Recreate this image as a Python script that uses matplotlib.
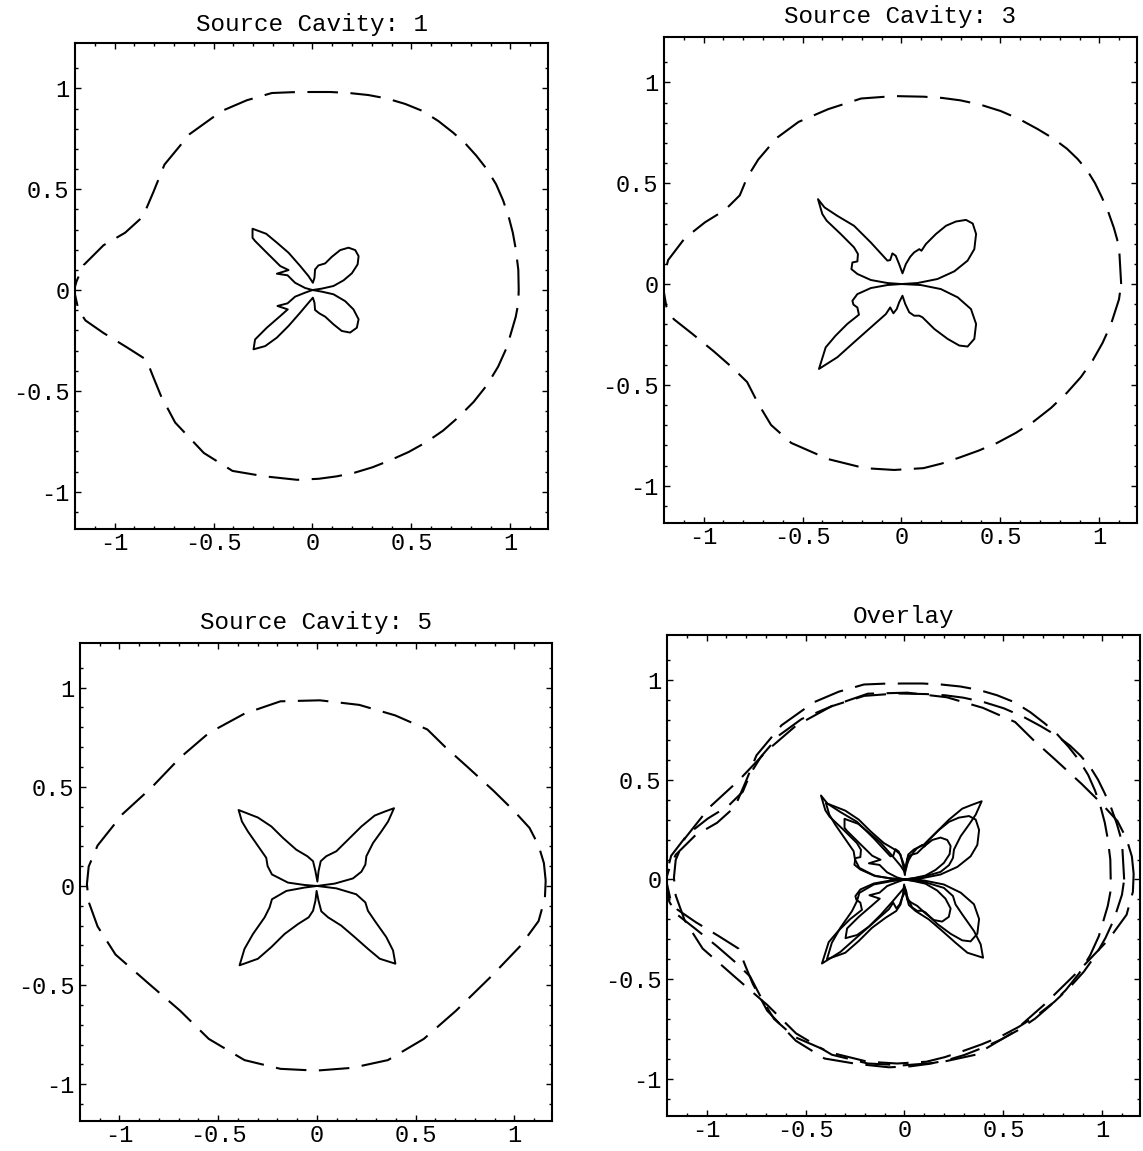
import numpy as np
import matplotlib
matplotlib.use('Agg')
import matplotlib.pyplot as plt

plt.rcParams['font.family'] = ['Liberation Mono', 'DejaVu Sans Mono']
plt.rcParams['lines.scale_dashes'] = False

# ---- Source cavity 1 ----
C1_OUTER_X = [1.042, 1.040, 1.027, 1.012, 0.991, 0.963, 0.928, 0.882, 0.828, 0.772,
              0.710, 0.636, 0.556, 0.468, 0.375, 0.282, 0.185, 0.090, -0.005, -0.105,
              -0.205, -0.332, -0.458, -0.621, -0.748, -0.803, -0.830, -0.857, -0.947, -1.056,
              -1.156, -1.192, -1.205, -1.183, -1.147, -1.056, -0.938, -0.866, -0.839, -0.803,
              -0.766, -0.694, -0.549, -0.404, -0.241, -0.078, 0.031, 0.122, 0.212, 0.303,
              0.393, 0.486, 0.574, 0.660, 0.737, 0.814, 0.882, 0.938, 0.982, 1.027, 1.040]
C1_OUTER_Y = [0.0, 0.100, 0.204, 0.285, 0.364, 0.445, 0.524, 0.598, 0.666, 0.727,
              0.781, 0.838, 0.888, 0.923, 0.950, 0.967, 0.977, 0.982, 0.982, 0.981,
              0.977, 0.941, 0.888, 0.773, 0.622, 0.488, 0.426, 0.364, 0.284, 0.222,
              0.124, 0.044, 0.0, -0.098, -0.151, -0.213, -0.284, -0.329, -0.346, -0.435,
              -0.524, -0.657, -0.808, -0.897, -0.924, -0.941, -0.936, -0.924, -0.906, -0.879,
              -0.844, -0.803, -0.755, -0.697, -0.631, -0.555, -0.471, -0.380, -0.284, -0.133, -0.065]
C1_INNER_X = [0.0, 0.047, 0.106, 0.157, 0.199, 0.228, 0.233, 0.216, 0.182, 0.140,
              0.098, 0.064, 0.030, 0.013, 0.010, 0.002, -0.020, -0.062, -0.121, -0.180,
              -0.234, -0.303, -0.303, -0.290, -0.231, -0.163, -0.121, -0.180, -0.126, -0.088,
              -0.037, 0.0, -0.037, -0.088, -0.126, -0.177, -0.125, -0.163, -0.231, -0.290,
              -0.298, -0.239, -0.180, -0.121, -0.062, -0.020, 0.002, 0.010, 0.013, 0.035,
              0.064, 0.106, 0.148, 0.190, 0.224, 0.233, 0.207, 0.165, 0.106, 0.047]
C1_INNER_Y = [0.0, 0.007, 0.020, 0.048, 0.083, 0.127, 0.168, 0.198, 0.210, 0.198,
              0.165, 0.132, 0.122, 0.102, 0.061, 0.036, 0.069, 0.119, 0.185, 0.235,
              0.279, 0.304, 0.259, 0.243, 0.185, 0.119, 0.099, 0.081, 0.073, 0.036,
              0.010, 0.0, -0.013, -0.033, -0.066, -0.079, -0.096, -0.129, -0.187, -0.245,
              -0.294, -0.278, -0.236, -0.178, -0.112, -0.063, -0.038, -0.063, -0.099, -0.116,
              -0.132, -0.170, -0.203, -0.211, -0.187, -0.145, -0.096, -0.055, -0.021, -0.008]

# ---- Source cavity 3 ----
C3_OUTER_X = [1.110, 1.101, 1.090, 1.073, 1.045, 1.012, 0.978, 0.938, 0.890, 0.836,
              0.765, 0.687, 0.597, 0.501, 0.400, 0.297, 0.204, 0.111, -0.037, -0.204,
              -0.371, -0.520, -0.631, -0.724, -0.780, -0.817, -0.891, -0.993, -1.096, -1.179,
              -1.198, -1.207, -1.188, -1.151, -1.058, -0.947, -0.854, -0.780, -0.724, -0.659,
              -0.557, -0.371, -0.186, -0.037, 0.111, 0.204, 0.297, 0.390, 0.483, 0.578,
              0.669, 0.756, 0.836, 0.906, 0.966, 1.016, 1.058, 1.099]
C3_OUTER_Y = [0.0, 0.155, 0.220, 0.279, 0.357, 0.431, 0.500, 0.564, 0.620, 0.671,
              0.723, 0.769, 0.817, 0.858, 0.889, 0.911, 0.923, 0.929, 0.932, 0.920,
              0.867, 0.804, 0.724, 0.617, 0.528, 0.440, 0.368, 0.306, 0.226, 0.119,
              0.048, -0.005, -0.112, -0.174, -0.246, -0.335, -0.415, -0.486, -0.593, -0.699,
              -0.788, -0.868, -0.913, -0.922, -0.913, -0.890, -0.859, -0.826, -0.788, -0.738,
              -0.681, -0.614, -0.539, -0.462, -0.379, -0.292, -0.201, -0.076]
C3_INNER_X = [0.0, 0.081, 0.182, 0.267, 0.334, 0.368, 0.377, 0.360, 0.326, 0.275,
              0.225, 0.174, 0.123, 0.101, 0.090, 0.064, 0.044, 0.022, 0.005, -0.012,
              -0.029, -0.046, -0.057, -0.071, -0.155, -0.240, -0.324, -0.389, -0.422, -0.400,
              -0.378, -0.307, -0.240, -0.220, -0.223, -0.248, -0.253, -0.223, -0.155, -0.071,
              0.0, -0.071, -0.155, -0.223, -0.248, -0.243, -0.223, -0.215, -0.274, -0.333,
              -0.383, -0.417, -0.324, -0.240, -0.155, -0.079, -0.057, -0.041, -0.024, -0.012,
              0.005, 0.019, 0.039, 0.064, 0.090, 0.106, 0.166, 0.233, 0.292, 0.334,
              0.368, 0.377, 0.351, 0.284, 0.199, 0.098]
C3_INNER_Y = [0.0, 0.005, 0.025, 0.063, 0.116, 0.173, 0.248, 0.300, 0.318, 0.310,
              0.289, 0.248, 0.198, 0.165, 0.173, 0.157, 0.135, 0.099, 0.053, 0.099,
              0.140, 0.152, 0.119, 0.116, 0.206, 0.289, 0.338, 0.380, 0.421, 0.347,
              0.314, 0.248, 0.182, 0.149, 0.112, 0.107, 0.074, 0.050, 0.020, 0.005,
              0.0, -0.005, -0.020, -0.050, -0.083, -0.102, -0.116, -0.152, -0.198, -0.256,
              -0.314, -0.421, -0.363, -0.289, -0.215, -0.149, -0.116, -0.145, -0.124, -0.091,
              -0.058, -0.099, -0.140, -0.157, -0.157, -0.165, -0.223, -0.272, -0.305, -0.310,
              -0.272, -0.198, -0.124, -0.066, -0.025, -0.005]

# ---- Source cavity 5 ----
C5_OUTER_X = [1.158, 1.149, 1.122, 1.076, 0.995, 0.895, 0.759, 0.650, 0.559, 0.396,
              0.214, 0.015, -0.185, -0.367, -0.548, -0.693, -0.838, -0.984, -1.111, -1.156,
              -1.165, -1.156, -1.111, -1.020, -0.857, -0.693, -0.548, -0.367, -0.185, -0.004,
              0.178, 0.359, 0.541, 0.704, 0.886, 1.031, 1.122, 1.154]
C5_OUTER_Y = [0.027, 0.115, 0.204, 0.293, 0.381, 0.479, 0.603, 0.700, 0.789, 0.860,
              0.913, 0.936, 0.931, 0.869, 0.771, 0.647, 0.496, 0.363, 0.204, 0.098,
              0.009, -0.080, -0.204, -0.346, -0.488, -0.629, -0.771, -0.878, -0.922, -0.931,
              -0.917, -0.878, -0.771, -0.629, -0.452, -0.301, -0.177, -0.062]
C5_INNER_X = [0.0, 0.090, 0.182, 0.225, 0.245, 0.250, 0.284, 0.326, 0.360, 0.390,
              0.343, 0.292, 0.225, 0.157, 0.098, 0.047, 0.019, 0.008, 0.002, -0.008,
              -0.020, -0.049, -0.105, -0.172, -0.231, -0.299, -0.397, -0.380, -0.350, -0.257,
              -0.250, -0.228, -0.147, -0.063, 0.0, -0.063, -0.155, -0.228, -0.240, -0.265,
              -0.324, -0.367, -0.392, -0.299, -0.231, -0.164, -0.096, -0.042, -0.020, -0.008,
              -0.002, 0.008, 0.022, 0.056, 0.123, 0.191, 0.258, 0.318, 0.397, 0.385,
              0.351, 0.292, 0.258, 0.245, 0.199, 0.098]
C5_INNER_Y = [0.0, 0.012, 0.038, 0.072, 0.108, 0.150, 0.217, 0.275, 0.325, 0.392,
              0.375, 0.355, 0.300, 0.233, 0.175, 0.150, 0.125, 0.075, 0.022, 0.075,
              0.125, 0.150, 0.183, 0.242, 0.300, 0.345, 0.383, 0.325, 0.275, 0.142,
              0.100, 0.058, 0.017, 0.005, 0.0, -0.008, -0.025, -0.067, -0.108, -0.158,
              -0.242, -0.317, -0.400, -0.367, -0.308, -0.242, -0.192, -0.158, -0.125, -0.075,
              -0.025, -0.075, -0.128, -0.158, -0.200, -0.258, -0.317, -0.367, -0.392, -0.325,
              -0.258, -0.175, -0.125, -0.083, -0.042, -0.012]

PANEL_TITLES = ['Source Cavity: 1', 'Source Cavity: 3', 'Source Cavity: 5', 'Overlay']
TICK_VALUES = [-1, -0.5, 0, 0.5, 1]
TICK_LABELS = ['-1', '-0.5', '0', '0.5', '1']

W, H = 1143, 1151
fig = plt.figure(figsize=(W / 100, H / 100), dpi=100)

# frame boxes in pixels: left, right, top, bottom ; title y in pixels
frames = [(75, 548, 43, 529, 24),
          (664, 1137, 37, 523, 17),
          (80, 552, 643, 1121, 623),
          (667, 1140, 635, 1116, 616)]

curves = [(C1_OUTER_X, C1_OUTER_Y, C1_INNER_X, C1_INNER_Y),
          (C3_OUTER_X, C3_OUTER_Y, C3_INNER_X, C3_INNER_Y),
          (C5_OUTER_X, C5_OUTER_Y, C5_INNER_X, C5_INNER_Y)]


def closed(v):
    v = np.asarray(v, dtype=float)
    return np.append(v, v[0])


def draw(ax, ox, oy, ix, iy):
    ax.plot(closed(ox), closed(oy), color='black', lw=1.5, linestyle=(0, (22, 9)))
    ax.plot(closed(ix), closed(iy), color='black', lw=1.4)


for k, (l, r, t, b, ty) in enumerate(frames):
    ax = fig.add_axes([l / W, 1 - b / H, (r - l) / W, (b - t) / H])
    if k < 3:
        draw(ax, *curves[k])
    else:
        for c in curves:
            draw(ax, *c)
    ax.set_xlim(-1.2, 1.19)
    ax.set_ylim(-1.185, 1.225)
    ax.set_xticks(TICK_VALUES)
    ax.set_xticklabels(TICK_LABELS)
    ax.set_yticks(TICK_VALUES)
    ax.set_yticklabels(TICK_LABELS)
    ax.set_xticks(np.arange(-1.1, 1.15, 0.1), minor=True)
    ax.set_yticks(np.arange(-1.1, 1.2, 0.1), minor=True)
    ax.tick_params(which='both', direction='in', top=True, right=True,
                   labelsize=17, width=1)
    ax.tick_params(which='major', length=4)
    ax.tick_params(which='minor', length=2)
    ax.tick_params(axis='x', pad=2)
    ax.tick_params(axis='y', pad=4)
    for s in ax.spines.values():
        s.set_linewidth(1.5)
    fig.text((l + r) / 2 / W, 1 - ty / H, PANEL_TITLES[k], ha='center', va='center',
             fontsize=17.5)

fig.savefig('out.png', dpi=100)
